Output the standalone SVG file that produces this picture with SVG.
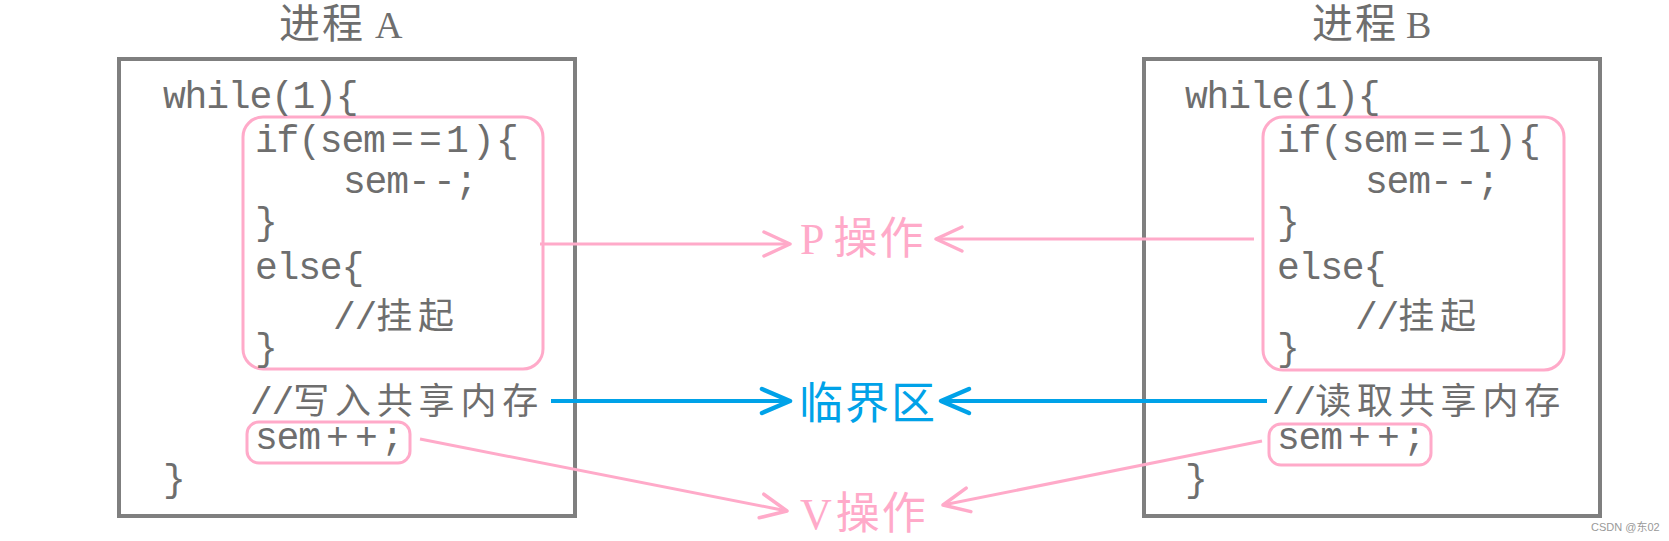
<svg xmlns="http://www.w3.org/2000/svg" width="1669" height="541" viewBox="0 0 1669 541">
<style>
.box{fill:none;stroke:#7f7f7f;stroke-width:4}
.pbox{fill:none;stroke:#ffaac9;stroke-width:3}
.code{font-family:"Liberation Mono","Noto Sans CJK SC",monospace;font-size:38px;letter-spacing:-1.2px;fill:#6e6e6e}
.cjk{font-family:"Noto Sans CJK SC",sans-serif;font-size:36px;letter-spacing:5.8px}
.title{font-family:"Noto Sans CJK SC",sans-serif;font-size:41px;letter-spacing:2px;fill:#6e6e6e}
.tl{font-family:"Liberation Serif",serif;font-size:38px;letter-spacing:0}
.lbl{font-family:"Noto Sans CJK SC",sans-serif;font-size:44px;letter-spacing:2px}
.ll{font-family:"Liberation Serif",serif;font-size:44px;letter-spacing:0}
.pk{stroke:#ffaac9;stroke-width:3;fill:none}
.bl{stroke:#00a2e8;stroke-width:4;fill:none}
</style>
<defs>
<marker id="ap" markerUnits="userSpaceOnUse" markerWidth="40" markerHeight="40" refX="26" refY="12" orient="auto" viewBox="-4 -4 40 40">
<path d="M0,0 L26,12 L0,24" fill="none" stroke="#ffaac9" stroke-width="3.5" stroke-linecap="round" stroke-linejoin="round"/>
</marker>
<marker id="ab" markerUnits="userSpaceOnUse" markerWidth="40" markerHeight="40" refX="28" refY="12" orient="auto" viewBox="-4 -4 40 40">
<path d="M0,0 L28,12 L0,24" fill="none" stroke="#00a2e8" stroke-width="4.5" stroke-linecap="round" stroke-linejoin="round"/>
</marker>
</defs>

<g id="processA">
<text class="title" x="279" y="38">进程<tspan class="tl" x="375">A</tspan></text>
<rect class="box" x="119" y="59" width="456" height="457"/>
<rect class="pbox" x="243" y="117" width="300" height="252" rx="20"/>
<rect class="pbox" x="247" y="422" width="163" height="41" rx="12"/>
<text class="code" x="163" y="108">while(1){</text>
<text class="code" x="255 276.6 298.2 319.8 341.4 363 391 419 446 472 496" y="152">if(sem==1){</text>
<text class="code" x="343 364.6 386.2 408 433 455" y="193">sem--;</text>
<text class="code" x="255" y="234">}</text>
<text class="code" x="255" y="279">else{</text>
<text class="code" x="333" y="329">//<tspan class="cjk">挂起</tspan></text>
<text class="code" x="255" y="360">}</text>
<text class="code" x="250" y="414">//<tspan class="cjk">写入共享内存</tspan></text>
<text class="code" x="255 276.6 298.2 326 355 381" y="449">sem++;</text>
<text class="code" x="163" y="491">}</text>
</g>

<g id="processB">
<text class="title" x="1312" y="38">进程<tspan class="tl" x="1406">B</tspan></text>
<rect class="box" x="1144" y="59" width="456" height="457"/>
<rect class="pbox" x="1263" y="117" width="301" height="253" rx="20"/>
<rect class="pbox" x="1269" y="424" width="162" height="41" rx="12"/>
<text class="code" x="1185" y="108">while(1){</text>
<text class="code" x="1277 1298.6 1320.2 1341.8 1363.4 1385 1413 1441 1468 1494 1518" y="152">if(sem==1){</text>
<text class="code" x="1365 1386.6 1408.2 1430 1455 1477" y="193">sem--;</text>
<text class="code" x="1277" y="234">}</text>
<text class="code" x="1277" y="279">else{</text>
<text class="code" x="1355" y="329">//<tspan class="cjk">挂起</tspan></text>
<text class="code" x="1277" y="360">}</text>
<text class="code" x="1272" y="414">//<tspan class="cjk">读取共享内存</tspan></text>
<text class="code" x="1277 1298.6 1320.2 1348 1377 1403" y="449">sem++;</text>
<text class="code" x="1185" y="491">}</text>
</g>

<g id="P">
<text class="lbl" x="800" y="254" fill="#ffaac9"><tspan class="ll">P</tspan><tspan dx="9">操作</tspan></text>
</g>
<g id="critical">
<text class="lbl" x="799" y="419" fill="#00a2e8">临界区</text>
</g>
<g id="V">
<text class="lbl" x="800" y="529" fill="#ffaac9"><tspan class="ll">V</tspan><tspan dx="4">操作</tspan></text>
</g>

<g id="connectors">
<line class="pk" x1="540" y1="244" x2="790" y2="244" marker-end="url(#ap)"/>
<line class="pk" x1="1254" y1="239" x2="936" y2="239" marker-end="url(#ap)"/>
<line class="bl" x1="551" y1="401" x2="790" y2="401" marker-end="url(#ab)"/>
<line class="bl" x1="1267" y1="401" x2="941" y2="401" marker-end="url(#ab)"/>
<line class="pk" x1="420" y1="439" x2="787" y2="511" marker-end="url(#ap)"/>
<line class="pk" x1="1262" y1="441" x2="943" y2="505" marker-end="url(#ap)"/>
</g>

<text x="1591" y="531" font-family="Liberation Sans,Noto Sans CJK SC,sans-serif" font-size="11" fill="#999999">CSDN @东02</text>
</svg>
